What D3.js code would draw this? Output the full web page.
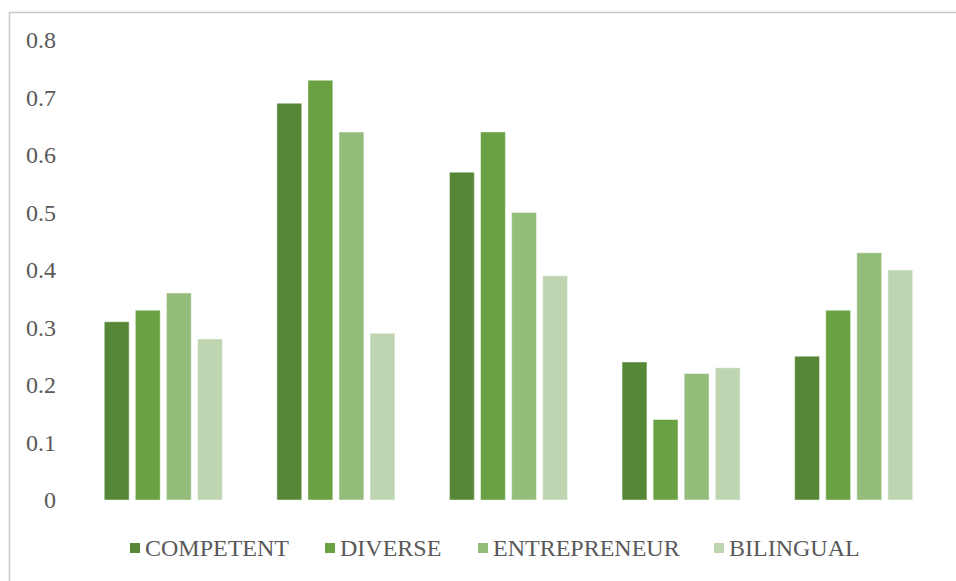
<!DOCTYPE html>
<html>
<head>
<meta charset="utf-8">
<script src="https://cdn.jsdelivr.net/npm/d3@7"></script>
<style>
  html, body { margin: 0; padding: 0; background: #fff; }
  svg { display: block; }
</style>
</head>
<body>
<svg id="chart" width="956" height="581"></svg>
<script>
// Data
const groups = ["G1", "G2", "G3", "G4", "G5"];
const seriesNames = ["COMPETENT", "DIVERSE", "ENTREPRENEUR", "BILINGUAL"];
const competent    = [0.31, 0.69, 0.57, 0.24, 0.25];
const diverse      = [0.33, 0.73, 0.64, 0.14, 0.33];
const entrepreneur = [0.36, 0.64, 0.50, 0.22, 0.43];
const bilingual    = [0.28, 0.29, 0.39, 0.23, 0.40];
const yTicks = [0, 0.1, 0.2, 0.3, 0.4, 0.5, 0.6, 0.7, 0.8];
const colors = ["#568737", "#6aa243", "#94bc7b", "#bfd5b2"];

const seriesValues = [competent, diverse, entrepreneur, bilingual];
const FONT = '"Liberation Serif"';
const FONT_SIZE = "24px";
const TEXT_COLOR = "#595959";

const svg = d3.select("#chart");

// Chart frame
svg.append("rect")
  .attr("x", 9.5).attr("y", 12.5)
  .attr("width", 960).attr("height", 600)
  .attr("fill", "none")
  .attr("stroke", "#c8c8c8")
  .attr("stroke-width", 1.5);

const x0 = d3.scaleBand().domain(groups).range([77, 940])
  .paddingInner(0.28).paddingOuter(0.14);
const x1 = d3.scaleBand().domain(seriesNames).range([0, x0.bandwidth()])
  .paddingInner(0.2).paddingOuter(0.1);
const y = d3.scaleLinear().domain([0, 0.8]).range([500, 40]);
const color = d3.scaleOrdinal().domain(seriesNames).range(colors);

// Y axis labels (no axis line, no gridlines)
const yAxis = d3.axisLeft(y).tickValues(yTicks).tickSize(0).tickPadding(0)
  .tickFormat(d => d === 0 ? "0" : d3.format(".1f")(d));
const gy = svg.append("g").attr("transform", "translate(56,0)").call(yAxis);
gy.select(".domain").remove();
gy.selectAll("text")
  .style("font-family", FONT)
  .style("font-size", FONT_SIZE)
  .style("fill", TEXT_COLOR);

// Bars
const groupG = svg.append("g").selectAll("g")
  .data(groups)
  .join("g")
  .attr("transform", d => `translate(${x0(d)},0)`);

groupG.selectAll("rect")
  .data((g, gi) => seriesNames.map((s, si) => ({ s, v: seriesValues[si][gi] })))
  .join("rect")
  .attr("x", d => x1(d.s))
  .attr("y", d => y(d.v))
  .attr("width", x1.bandwidth())
  .attr("height", d => y(0) - y(d.v))
  .attr("fill", d => color(d.s))
  .attr("stroke", "rgba(255,255,255,0.45)")
  .attr("stroke-width", 1);

// Legend
const legendX = [130, 325, 478, 714];
const legend = svg.append("g").selectAll("g")
  .data(seriesNames)
  .join("g")
  .attr("transform", (d, i) => `translate(${legendX[i]},548)`);
legend.append("rect")
  .attr("x", 0).attr("y", -5)
  .attr("width", 10).attr("height", 10)
  .attr("fill", d => color(d));
legend.append("text")
  .attr("x", 15).attr("y", 0)
  .attr("dy", "0.35em")
  .style("font-family", FONT)
  .style("font-size", FONT_SIZE)
  .style("fill", TEXT_COLOR)
  .text(d => d);
</script>
</body>
</html>
